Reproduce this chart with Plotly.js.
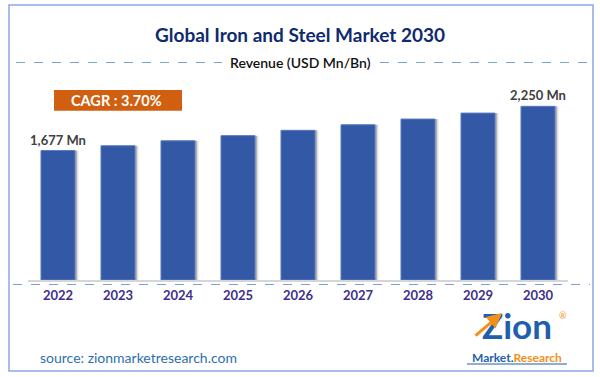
<!DOCTYPE html>
<html>
<head>
<meta charset="utf-8">
<script src="https://cdn.plot.ly/plotly-3.0.1.min.js"></script>
<style>html,body{margin:0;padding:0;background:#fff;}#chart{width:600px;height:377px;}</style>
</head>
<body>
<div id="chart"></div>
<script>
// ---- data ----
const years = ['2022','2023','2024','2025','2026','2027','2028','2029','2030'];
const revenue = [1677, 1739, 1803, 1870, 1939, 2011, 2085, 2162, 2250];
const unit = 'Mn';
const cagrText = 'CAGR : 3.70%';
const chartTitle = 'Global Iron and Steel Market 2030';
const subTitle = 'Revenue (USD Mn/Bn)';
const sourceText = 'source: zionmarketresearch.com';

// ---- layout helpers (pixel -> paper) ----
const W = 600, H = 377;
const M = {l: 28, r: 32, t: 87, b: 97};
const PW = W - M.l - M.r, PH = H - M.t - M.b;
const px = x => (x - M.l) / PW;
const py = y => (H - M.b - y) / PH;

const labels = revenue.map((v, i) =>
  (i === 0 || i === revenue.length - 1) ? v.toLocaleString('en-US') + ' ' + unit : '');

const barW = 0.567;
const shadow1 = {
  type: 'bar', x: years, y: revenue, width: barW, offset: -barW / 2 + 0.06,
  marker: {color: 'rgba(0,0,0,0.10)'}, hoverinfo: 'skip', showlegend: false
};
const shadow2 = {
  type: 'bar', x: years, y: revenue, width: barW, offset: -barW / 2 + 0.035,
  marker: {color: 'rgba(0,0,0,0.22)'}, hoverinfo: 'skip', showlegend: false
};
const bars = {
  type: 'bar', x: years, y: revenue, width: barW,
  marker: {color: '#3358a6', line: {color: '#5a7cc2', width: 1}},
  text: labels, textposition: 'outside', cliponaxis: false, constraintext: 'none',
  textfont: {family: 'Lato, sans-serif', size: 13, color: '#404040', weight: 'bold'},
  showlegend: false
};

const blue = '#1f5fad', orange = '#f39019';
const layout = {
  width: W, height: H,
  margin: M,
  paper_bgcolor: '#ffffff', plot_bgcolor: '#ffffff',
  barmode: 'overlay',
  title: {
    text: '<b>' + chartTitle + '</b>',
    font: {family: 'Lato, sans-serif', size: 19, color: '#0f2a6e'},
    x: 0.5, xanchor: 'center', y: 1 - 35 / H, yanchor: 'middle'
  },
  xaxis: {
    type: 'category', range: [-0.5, 8.5], fixedrange: true,
    showline: true, linecolor: '#d6d6d6', linewidth: 1.5,
    showgrid: false, zeroline: false, ticks: '',
    tickfont: {family: 'Lato, sans-serif', size: 13, color: '#3d2f8c', weight: 'bold'},
    ticklabelstandoff: 3
  },
  yaxis: {range: [0, 2500], visible: false, fixedrange: true},
  shapes: [
    // outer frame
    {type: 'rect', xref: 'paper', yref: 'paper', x0: px(9), x1: px(593), y0: py(5), y1: py(371),
     line: {color: '#8ea6e4', width: 1.5}, layer: 'below'},
    // subtitle dashed lines
    {type: 'line', xref: 'paper', yref: 'paper', x0: px(16), x1: px(222), y0: py(62.5), y1: py(62.5),
     line: {color: '#7f9fd9', width: 1, dash: 'dash'}},
    {type: 'line', xref: 'paper', yref: 'paper', x0: px(380), x1: px(590), y0: py(62.5), y1: py(62.5),
     line: {color: '#7f9fd9', width: 1, dash: 'dash'}},
    // dashed baseline under axis
    {type: 'line', xref: 'paper', yref: 'paper', x0: px(13), x1: px(590), y0: py(284.5), y1: py(284.5),
     line: {color: '#7f9fd9', width: 1, dash: 'dash'}},
    // CAGR box
    {type: 'rect', xref: 'paper', yref: 'paper', x0: px(54), x1: px(182), y0: py(90), y1: py(110.7),
     fillcolor: '#d15f10', line: {width: 0}},
    // logo underline
    {type: 'line', xref: 'paper', yref: 'paper', x0: px(467), x1: px(567), y0: py(364), y1: py(364),
     line: {color: blue, width: 1.2}}
  ],
  annotations: [
    {xref: 'paper', yref: 'paper', x: px(300.5), y: py(62.7), text: subTitle, showarrow: false,
     xanchor: 'center', yanchor: 'middle',
     font: {family: 'Lato, sans-serif', size: 14, color: '#111111', weight: 600}},
    {xref: 'paper', yref: 'paper', x: px(116), y: py(100.5), text: '<b>' + cagrText + '</b>', showarrow: false,
     xanchor: 'center', yanchor: 'middle',
     font: {family: 'Lato, sans-serif', size: 14.5, color: '#ffffff'}},
    {xref: 'paper', yref: 'paper', x: px(38), y: py(357.5), text: sourceText, showarrow: false,
     xanchor: 'left', yanchor: 'middle',
     font: {family: 'Lato, sans-serif', size: 14, color: '#2e6fad'}},
    // logo
    {xref: 'paper', yref: 'paper', x: px(517), y: py(325), text: '<b>Zion</b>', showarrow: false,
     xanchor: 'center', yanchor: 'middle',
     font: {family: 'Lato, sans-serif', size: 35, color: blue}},
    {xref: 'paper', yref: 'paper', x: px(502), y: py(313), ax: -28, ay: 24, text: '', showarrow: true,
     arrowhead: 2, arrowsize: 1, arrowwidth: 3, arrowcolor: orange},
    {xref: 'paper', yref: 'paper', x: px(517), y: py(357), showarrow: false, xanchor: 'center', yanchor: 'middle',
     text: '<b><span style="color:' + blue + '">Market.</span><span style="color:' + orange + '">Research</span></b>',
     font: {family: 'Lato, sans-serif', size: 12, color: blue}},
    {xref: 'paper', yref: 'paper', x: px(563), y: py(315), showarrow: false, xanchor: 'center', yanchor: 'middle',
     text: '®', font: {family: 'Lato, sans-serif', size: 9, color: orange}}
  ]
};

Plotly.newPlot('chart', [shadow1, shadow2, bars], layout, {staticPlot: true, displayModeBar: false});
</script>
</body>
</html>
